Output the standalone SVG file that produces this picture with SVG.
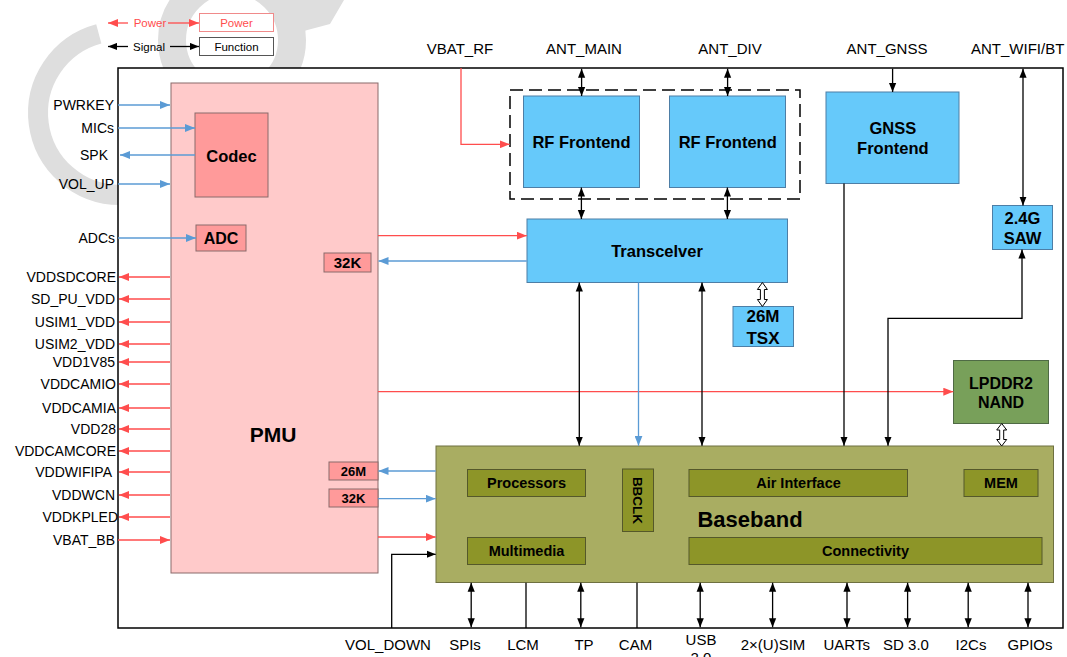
<svg xmlns="http://www.w3.org/2000/svg" width="1067" height="657" viewBox="0 0 1067 657">
<defs>
<marker id="ak" viewBox="0 0 10 8" refX="10" refY="4" markerWidth="9" markerHeight="8" markerUnits="userSpaceOnUse" orient="auto-start-reverse"><path d="M0,0 L10,4 L0,8 z" fill="#000"/></marker>
<marker id="ar" viewBox="0 0 10 8" refX="10" refY="4" markerWidth="10" markerHeight="8" markerUnits="userSpaceOnUse" orient="auto-start-reverse"><path d="M0,0 L10,4 L0,8 z" fill="#ff4d4d"/></marker>
<marker id="ab" viewBox="0 0 10 8" refX="10" refY="4" markerWidth="10" markerHeight="8" markerUnits="userSpaceOnUse" orient="auto-start-reverse"><path d="M0,0 L10,4 L0,8 z" fill="#5b9bd5"/></marker>
</defs>
<style>
text{font-family:"Liberation Sans",Arial,sans-serif;fill:#000}
.l{font-size:14px;text-anchor:end}
.t{font-size:15px;text-anchor:middle}
.b{font-weight:bold;text-anchor:middle}
.k{stroke:#000;stroke-width:1.3;fill:none}
.kd{stroke:#000;stroke-width:1.3;fill:none;marker-start:url(#ak);marker-end:url(#ak)}
.ke{stroke:#000;stroke-width:1.3;fill:none;marker-end:url(#ak)}
.r{stroke:#ff4d4d;stroke-width:1.3;fill:none;marker-end:url(#ar)}
.u{stroke:#5b9bd5;stroke-width:1.3;fill:none;marker-end:url(#ab)}
.blue{fill:#66c9fa;stroke:#4d7ea6;stroke-width:1}
.pink{fill:#ff9a9a;stroke:#8a6a6a;stroke-width:1}
.inner{fill:#8d9528;stroke:#55582a;stroke-width:1}
.hol{fill:#fff;stroke:#000;stroke-width:1}
</style>

<g id="watermark" fill="none" stroke="#dedede">
<path d="M98.8,33.8 A82,82 0 0 0 120,195" stroke-width="20"/>
<circle cx="232" cy="40" r="60" stroke-width="28"/>
<polygon points="272,0 344,0 330,24 300,32 288,18" fill="#dedede" stroke="none"/>
</g>

<g id="legend">
<line x1="128" y1="23" x2="108" y2="23" class="r"/>
<text x="150" y="27" style="font-size:11.5px;fill:#ff4d4d;text-anchor:middle">Power</text>
<line x1="168" y1="23" x2="199" y2="23" class="r"/>
<rect x="199.5" y="13.5" width="74" height="18" fill="#fff" stroke="#f08a8a"/>
<text x="236.5" y="27" style="font-size:11.5px;fill:#ff4d4d;text-anchor:middle">Power</text>
<line x1="128" y1="46.5" x2="108" y2="46.5" class="ke"/>
<text x="149" y="50.5" style="font-size:11.5px;text-anchor:middle">Signal</text>
<line x1="170" y1="46.5" x2="199" y2="46.5" class="ke"/>
<rect x="199.5" y="37.5" width="74" height="18" fill="#fff" stroke="#555"/>
<text x="236.5" y="50.5" style="font-size:11.5px;text-anchor:middle">Function</text>
</g>

<rect id="frame" x="118" y="68" width="945" height="560" fill="#fff" stroke="#000" stroke-width="1.5"/>

<g id="pmu">
<rect x="171" y="83" width="207" height="490" fill="#ffcaca" stroke="#8a6a6a"/>
<text x="273" y="441.5" class="b" style="font-size:21px">PMU</text>
</g>
<g id="codec"><rect x="195" y="113" width="73" height="84" class="pink"/><text x="231.5" y="161.7" class="b" style="font-size:16.5px">Codec</text></g>
<g id="adc"><rect x="196" y="225" width="50" height="26" class="pink"/><text x="221" y="243.5" class="b" style="font-size:16px">ADC</text></g>
<g id="clk32k-top"><rect x="324" y="253" width="47" height="19" class="pink"/><text x="347.5" y="267.9" class="b" style="font-size:15px">32K</text></g>
<g id="clk26m"><rect x="329" y="462" width="49" height="18" class="pink"/><text x="353.5" y="475.7" class="b" style="font-size:13px">26M</text></g>
<g id="clk32k"><rect x="329" y="489" width="49" height="18" class="pink"/><text x="353.5" y="502.7" class="b" style="font-size:13px">32K</text></g>

<g id="rf-group"><rect x="510" y="90" width="290" height="109" fill="none" stroke="#000" stroke-width="1.5" stroke-dasharray="13,6"/></g>
<g id="rf1"><rect x="523.5" y="96" width="116" height="91.5" class="blue"/><text x="581.5" y="147.7" class="b" style="font-size:16.5px">RF Frontend</text></g>
<g id="rf2"><rect x="669.5" y="96" width="116" height="91.5" class="blue"/><text x="727.7" y="147.7" class="b" style="font-size:16.5px">RF Frontend</text></g>
<g id="gnss"><rect x="826" y="92" width="133" height="91.5" class="blue"/><text x="892.8" y="133.7" class="b" style="font-size:16.5px">GNSS</text><text x="892.8" y="154.3" class="b" style="font-size:16.5px">Frontend</text></g>
<g id="saw"><rect x="992.5" y="205.5" width="60" height="44" class="blue"/><text x="1022.5" y="223.8" class="b" style="font-size:16.5px">2.4G</text><text x="1022.5" y="244.4" class="b" style="font-size:16.5px">SAW</text></g>
<g id="transceiver"><rect x="527" y="219" width="260.5" height="63.5" class="blue"/><text x="657" y="256.7" class="b" style="font-size:16.5px">Transcelver</text></g>
<g id="tsx"><rect x="733" y="306.5" width="60.5" height="40" class="blue"/><text x="763" y="321.8" class="b" style="font-size:17px">26M</text><text x="763" y="344.4" class="b" style="font-size:17px">TSX</text></g>
<g id="lpddr"><rect x="953.5" y="360.5" width="95" height="63" fill="#78a05a" stroke="#4f6a45"/><text x="1001" y="388.5" class="b" style="font-size:16px">LPDDR2</text><text x="1001" y="408.1" class="b" style="font-size:16px">NAND</text></g>

<g id="baseband">
<rect x="436" y="446" width="617.5" height="136.5" fill="#a9ad62" stroke="#6e7040"/>
<text x="750" y="527" class="b" style="font-size:22px">Baseband</text>
<rect x="467.5" y="469.5" width="118" height="27" class="inner"/><text x="526.5" y="488.4" class="b" style="font-size:14.5px">Processors</text>
<rect x="622.5" y="469" width="31" height="62.5" class="inner"/><text transform="translate(638,500.5) rotate(90)" x="0" y="5" class="b" style="font-size:13.5px">BBCLK</text>
<rect x="689" y="469.5" width="218.5" height="27" class="inner"/><text x="798.5" y="488.4" class="b" style="font-size:14.5px">Air Interface</text>
<rect x="964" y="469.5" width="74" height="27" class="inner"/><text x="1001" y="488.4" class="b" style="font-size:14.5px">MEM</text>
<rect x="467.5" y="537.5" width="118" height="27" class="inner"/><text x="526.5" y="556.4" class="b" style="font-size:14.5px">Multimedia</text>
<rect x="689" y="537.5" width="353" height="27" class="inner"/><text x="865.5" y="556.4" class="b" style="font-size:14.5px">Connectivity</text>
</g>

<g id="connectors">
<line x1="118" y1="105" x2="170" y2="105" class="u"/>
<line x1="118" y1="128" x2="195" y2="128" class="u"/>
<line x1="195" y1="155" x2="120" y2="155" class="u"/>
<line x1="118" y1="184" x2="170" y2="184" class="u"/>
<line x1="118" y1="238" x2="196" y2="238" class="u"/>
<line x1="170" y1="277" x2="119" y2="277" class="r"/>
<line x1="170" y1="299" x2="119" y2="299" class="r"/>
<line x1="170" y1="322" x2="119" y2="322" class="r"/>
<line x1="170" y1="344" x2="119" y2="344" class="r"/>
<line x1="170" y1="362" x2="119" y2="362" class="r"/>
<line x1="170" y1="384" x2="119" y2="384" class="r"/>
<line x1="170" y1="408" x2="119" y2="408" class="r"/>
<line x1="170" y1="429" x2="119" y2="429" class="r"/>
<line x1="170" y1="451" x2="119" y2="451" class="r"/>
<line x1="170" y1="472" x2="119" y2="472" class="r"/>
<line x1="170" y1="495" x2="119" y2="495" class="r"/>
<line x1="170" y1="517" x2="119" y2="517" class="r"/>
<line x1="118" y1="540" x2="170" y2="540" class="r"/>
<path d="M461,68 V144.3 H509.7" class="r"/>
<path d="M378,235.7 H526.8" class="r"/>
<path d="M378,391.7 H953.3" class="r"/>
<path d="M378,537 H435.7" class="r"/>
<path d="M526.8,261 H378.5" class="u"/>
<path d="M638.5,282.5 V445.7" class="u"/>
<path d="M435.7,471 H378.5" class="u"/>
<path d="M378,498.7 H435.7" class="u"/>
<path d="M581.6,68.7 V96" class="kd"/>
<path d="M727.6,68.7 V96" class="kd"/>
<path d="M581.4,187.5 V219" class="kd"/>
<path d="M727.4,187.5 V219" class="kd"/>
<path d="M892.6,68.7 V92" class="ke"/>
<path d="M1023,68.7 V205.5" class="kd"/>
<path d="M844,183.5 V445.7" class="ke"/>
<path d="M888,445.7 V318.3 H1022 V249.5" class="kd"/>
<path d="M579.3,282.5 V445.7" class="kd"/>
<path d="M702,282.5 V445.7" class="kd"/>
<path d="M391.7,628 V554.3 H435.7" class="ke"/>
<path d="M471.2,582.7 V627.3" class="kd"/>
<path d="M526,582.7 V628" class="k"/>
<path d="M580.8,582.7 V627.3" class="kd"/>
<path d="M637,582.7 V628" class="k"/>
<path d="M700.2,582.7 V627.3" class="kd"/>
<path d="M772.6,582.7 V627.3" class="kd"/>
<path d="M847,582.7 V627.3" class="kd"/>
<path d="M907.6,582.7 V627.3" class="kd"/>
<path d="M968.2,582.7 V627.3" class="kd"/>
<path d="M1028,582.7 V627.3" class="kd"/>
<polygon points="762.4,282.5 767.4,289.5 764.4,289.5 764.4,299.5 767.4,299.5 762.4,306.5 757.4,299.5 760.4,299.5 760.4,289.5 757.4,289.5" class="hol"/>
<polygon points="1001.7,423.5 1006.7,430 1003.7,430 1003.7,439.5 1006.7,439.5 1001.7,446 996.7,439.5 999.7,439.5 999.7,430 996.7,430" class="hol"/>
</g>

<g id="labels-left">
<text x="114" y="110" class="l">PWRKEY</text>
<text x="114" y="133" class="l">MICs</text>
<text x="108" y="160" class="l">SPK</text>
<text x="114" y="189" class="l">VOL_UP</text>
<text x="115" y="243" class="l">ADCs</text>
<text x="116" y="282" class="l">VDDSDCORE</text>
<text x="115" y="304" class="l">SD_PU_VDD</text>
<text x="115" y="327" class="l">USIM1_VDD</text>
<text x="115" y="349" class="l">USIM2_VDD</text>
<text x="115" y="367" class="l">VDD1V85</text>
<text x="116" y="389" class="l">VDDCAMIO</text>
<text x="116" y="413" class="l">VDDCAMIA</text>
<text x="116" y="434" class="l">VDD28</text>
<text x="116" y="456" class="l">VDDCAMCORE</text>
<text x="112" y="477" class="l">VDDWIFIPA</text>
<text x="115" y="500" class="l">VDDWCN</text>
<text x="118" y="522" class="l">VDDKPLED</text>
<text x="115" y="545" class="l">VBAT_BB</text>
</g>

<g id="labels-top">
<text x="460" y="53.5" class="t">VBAT_RF</text>
<text x="584" y="53.5" class="t">ANT_MAIN</text>
<text x="730" y="53.5" class="t">ANT_DIV</text>
<text x="887" y="53.5" class="t">ANT_GNSS</text>
<text x="971" y="53.5" style="font-size:15px">ANT_WIFI/BT</text>
</g>

<g id="labels-bottom">
<text x="388" y="650" class="t">VOL_DOWN</text>
<text x="465" y="650" class="t">SPIs</text>
<text x="523" y="650" class="t">LCM</text>
<text x="584" y="650" class="t">TP</text>
<text x="635.5" y="650" class="t">CAM</text>
<text x="701" y="645" class="t">USB</text>
<text x="701" y="663" class="t">2.0</text>
<text x="773" y="650" class="t">2×(U)SIM</text>
<text x="846.7" y="650" class="t">UARTs</text>
<text x="906" y="650" class="t">SD 3.0</text>
<text x="971" y="650" class="t">I2Cs</text>
<text x="1030" y="650" class="t">GPIOs</text>
</g>
</svg>
